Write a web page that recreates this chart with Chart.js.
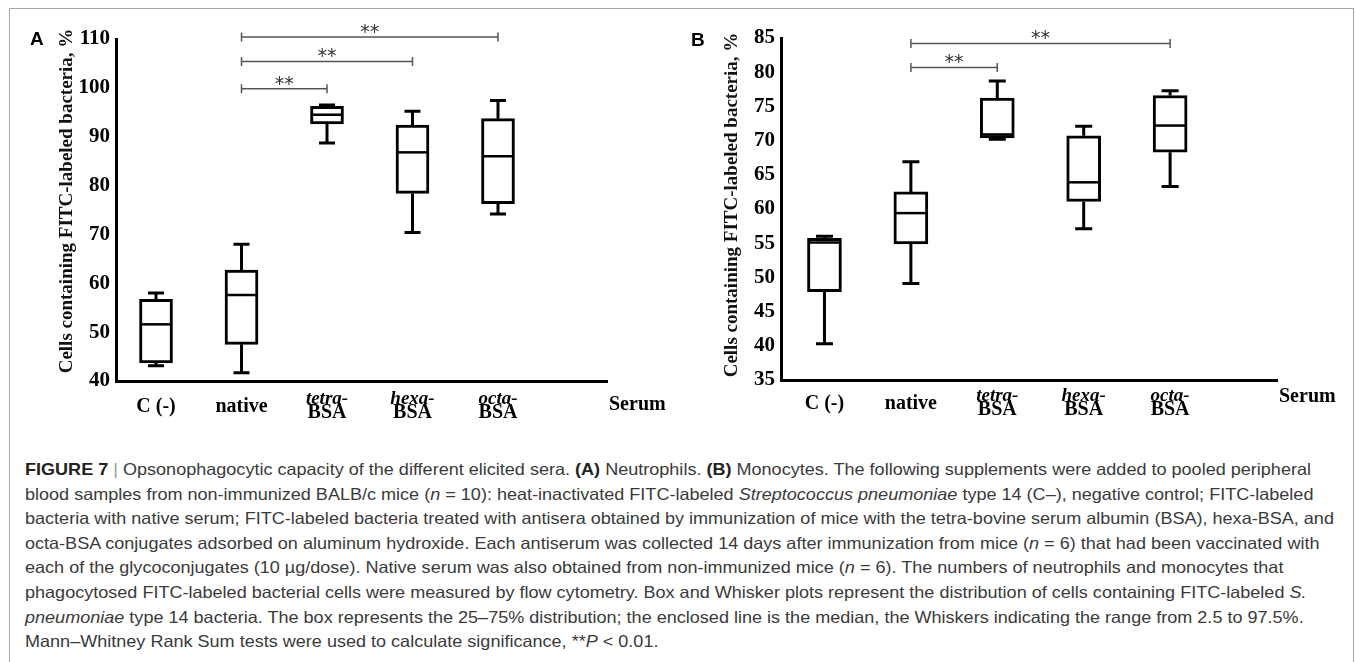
<!DOCTYPE html>
<html>
<head>
<meta charset="utf-8">
<script src="https://cdn.jsdelivr.net/npm/chart.js"></script>
<style>
  body { margin: 0; width: 1355px; height: 662px; overflow: hidden; background: #fff; position: relative; }
  #frame { position: absolute; left: 9px; top: 8px; width: 1343px; height: 720px; border: 1px solid #a8a8a8; }
  canvas { position: absolute; top: 0; }
  #chartA { left: 0; }
  #chartB { left: 680px; }
  .tag { position: absolute; font: bold 19px "Liberation Sans", Arial, sans-serif; line-height: 19px; color: #000; }
  #caption { position: absolute; left: 25px; top: 457px; font: 16.5px "Liberation Sans", Arial, sans-serif;
             line-height: 24.6px; color: #3a3a3a; white-space: nowrap; transform-origin: 0 0; }
  #caption .ln { width: max-content; }
  #caption b { color: #222; }
  #caption .sep { color: #999; }
</style>
</head>
<body>
<div id="frame"></div>
<canvas id="chartA" width="680" height="430"></canvas>
<canvas id="chartB" width="675" height="430"></canvas>
<div class="tag" style="left:30px; top:29px;">A</div>
<div class="tag" style="left:691px; top:30px;">B</div>

<div id="caption">
  <div class="ln"><b>FIGURE 7</b> <span class="sep">|</span> Opsonophagocytic capacity of the different elicited sera. <b>(A)</b> Neutrophils. <b>(B)</b> Monocytes. The following supplements were added to pooled peripheral</div>
  <div class="ln">blood samples from non-immunized BALB/c mice (<i>n</i> = 10): heat-inactivated FITC-labeled <i>Streptococcus pneumoniae</i> type 14 (C–), negative control; FITC-labeled</div>
  <div class="ln">bacteria with native serum; FITC-labeled bacteria treated with antisera obtained by immunization of mice with the tetra-bovine serum albumin (BSA), hexa-BSA, and</div>
  <div class="ln">octa-BSA conjugates adsorbed on aluminum hydroxide. Each antiserum was collected 14 days after immunization from mice (<i>n</i> = 6) that had been vaccinated with</div>
  <div class="ln">each of the glycoconjugates (10 µg/dose). Native serum was also obtained from non-immunized mice (<i>n</i> = 6). The numbers of neutrophils and monocytes that</div>
  <div class="ln">phagocytosed FITC-labeled bacterial cells were measured by flow cytometry. Box and Whisker plots represent the distribution of cells containing FITC-labeled <i>S.</i></div>
  <div class="ln"><i>pneumoniae</i> type 14 bacteria. The box represents the 25–75% distribution; the enclosed line is the median, the Whiskers indicating the range from 2.5 to 97.5%.</div>
  <div class="ln">Mann–Whitney Rank Sum tests were used to calculate significance, **<i>P</i> &lt; 0.01.</div>
</div>

<script>
const categories = ['C (-)', 'native', 'tetra-BSA', 'hexa-BSA', 'octa-BSA'];
const xName = 'Serum';
const yTitle = 'Cells containing FITC-labeled bacteria, %';
const sigText = '**';

// (A) neutrophils
const neuTicks = [40, 50, 60, 70, 80, 90, 100, 110];
const neuLow = [43.1, 41.7, 88.7, 70.4, 74.2];
const neuQ1 = [43.7, 47.5, 92.6, 78.4, 76.3];
const neuMedian = [51.6, 57.6, 94.5, 86.8, 86.0];
const neuQ3 = [56.7, 62.7, 96.2, 92.4, 93.7];
const neuHigh = [58.0, 68.0, 96.5, 95.2, 97.4];
const neuSigPairs = [[2, 3], [2, 4], [2, 5]];
const neuSigLevel = [99.8, 105.4, 110.4];

// (B) monocytes
const monoTicks = [35, 40, 45, 50, 55, 60, 65, 70, 75, 80, 85];
const monoLow = [40.3, 49.1, 70.2, 57.1, 63.3];
const monoQ1 = [47.9, 54.9, 70.4, 61.1, 68.3];
const monoMedian = [55.1, 59.4, 70.9, 63.9, 72.2];
const monoQ3 = [55.7, 62.5, 76.2, 70.7, 76.6];
const monoHigh = [56.0, 66.9, 78.7, 72.1, 77.3];
const monoSigPairs = [[2, 3], [2, 5]];
const monoSigLevel = [80.7, 84.2];

const serif = '"Liberation Serif", "Times New Roman", serif';

function line(ctx, x1, y1, x2, y2) {
  ctx.moveTo(x1, y1);
  ctx.lineTo(x2, y2);
}

// whiskers, medians, brackets and the hand-placed texts
function boxExtras(st, look) {
  return {
    id: 'boxExtras',
    afterDatasetsDraw(chart) {
      const { ctx, scales: { x, y } } = chart;
      ctx.save();
      ctx.strokeStyle = '#000';
      st.median.forEach((m, i) => {
        const cx = x.getPixelForValue(i + 1);
        const hb = look.boxWidth / 2 - 2;
        const hc = look.capWidth / 2;
        const yHi = y.getPixelForValue(st.high[i]);
        const yLo = y.getPixelForValue(st.low[i]);
        ctx.lineWidth = 2.5;
        ctx.beginPath();
        line(ctx, cx - hb, y.getPixelForValue(m), cx + hb, y.getPixelForValue(m));
        ctx.stroke();
        ctx.lineWidth = 3;
        ctx.beginPath();
        line(ctx, cx, y.getPixelForValue(st.q3[i]), cx, yHi);
        line(ctx, cx - hc, yHi, cx + hc, yHi);
        line(ctx, cx, y.getPixelForValue(st.q1[i]), cx, yLo);
        line(ctx, cx - hc, yLo, cx + hc, yLo);
        ctx.stroke();
      });
      ctx.restore();
    },
    afterDraw(chart) {
      const { ctx, chartArea: area, scales: { x, y } } = chart;
      ctx.save();

      // significance brackets
      st.pairs.forEach(([a, b], k) => {
        const x1 = x.getPixelForValue(a);
        const x2 = x.getPixelForValue(b);
        const yy = y.getPixelForValue(st.level[k]);
        ctx.strokeStyle = '#555';
        ctx.lineWidth = 1.5;
        ctx.beginPath();
        line(ctx, x1, yy, x2, yy);
        line(ctx, x1, yy - 4.5, x1, yy + 4.5);
        line(ctx, x2, yy - 4.5, x2, yy + 4.5);
        ctx.stroke();
        ctx.fillStyle = '#333';
        ctx.font = '19px "DejaVu Sans", sans-serif';
        ctx.textAlign = 'center';
        ctx.textBaseline = 'alphabetic';
        ctx.fillText(sigText, (x1 + x2) / 2, yy + 1);
      });

      // category labels
      ctx.fillStyle = '#000';
      ctx.textAlign = 'center';
      ctx.textBaseline = 'middle';
      categories.forEach((c, i) => {
        const cx = x.getPixelForValue(i + 1);
        const cut = c.indexOf('-BSA');
        if (cut > 0) {
          ctx.font = 'italic bold 19px ' + serif;
          ctx.fillText(c.slice(0, cut + 1), cx, area.bottom + look.row1);
          ctx.font = 'bold 20px ' + serif;
          ctx.fillText(c.slice(cut + 1), cx, area.bottom + look.row2);
        } else {
          ctx.font = 'bold 20px ' + serif;
          ctx.fillText(c, cx, area.bottom + look.single);
        }
      });
      ctx.textAlign = 'left';
      ctx.fillText(xName, area.right + 2, area.bottom + look.name);

      // y axis title
      ctx.translate(look.titleX, look.titleY);
      ctx.rotate(-Math.PI / 2);
      ctx.textAlign = 'center';
      ctx.fillStyle = '#111';
      ctx.font = 'bold 19px ' + serif;
      ctx.fillText(yTitle, 0, 0);
      ctx.restore();
    }
  };
}

function boxChart(id, st, look) {
  const ticks = st.ticks;
  return new Chart(document.getElementById(id), {
    type: 'bar',
    data: {
      datasets: [{
        data: categories.map((c, i) => ({ x: i + 1, y: [st.q1[i], st.q3[i]] })),
        backgroundColor: '#fff',
        borderColor: '#000',
        borderWidth: 3,
        borderSkipped: false,
        barThickness: look.boxWidth
      }]
    },
    options: {
      responsive: false,
      animation: false,
      events: [],
      layout: { padding: look.padding },
      plugins: { legend: { display: false }, tooltip: { enabled: false } },
      scales: {
        x: {
          type: 'linear',
          offset: false,
          min: look.xMin,
          max: look.xMax,
          grid: { display: false, drawTicks: false },
          ticks: { display: false },
          border: { display: true, color: '#000', width: 3 },
          afterFit: s => { s.height = 0; }
        },
        y: {
          min: ticks[0],
          max: ticks[ticks.length - 1],
          grid: { display: false, drawTicks: false },
          border: { display: true, color: '#000', width: 3 },
          ticks: {
            stepSize: ticks[1] - ticks[0],
            autoSkip: false,
            padding: 6,
            color: '#000',
            font: { family: serif, size: 21, weight: 'bold' }
          },
          afterFit: s => { s.width = 66; }
        }
      }
    },
    plugins: [boxExtras(st, look)]
  });
}

boxChart('chartA', {
  ticks: neuTicks, low: neuLow, q1: neuQ1, median: neuMedian, q3: neuQ3, high: neuHigh,
  pairs: neuSigPairs, level: neuSigLevel
}, {
  padding: { left: 50, right: 73, top: 39, bottom: 49 },
  xMin: 0.532, xMax: 6.275,
  boxWidth: 33, capWidth: 16,
  single: 26, row1: 18, row2: 32, name: 24,
  titleX: 66.7, titleY: 201
});

boxChart('chartB', {
  ticks: monoTicks, low: monoLow, q1: monoQ1, median: monoMedian, q3: monoQ3, high: monoHigh,
  pairs: monoSigPairs, level: monoSigLevel
}, {
  padding: { left: 35, right: 78, top: 38, bottom: 50 },
  xMin: 0.497, xMax: 6.237,
  boxWidth: 34, capWidth: 17,
  single: 24, row1: 16, row2: 30, name: 17,
  titleX: 51.7, titleY: 205
});

// fit the caption to the width of its first printed line
const cap = document.getElementById('caption');
const firstWidth = cap.querySelector('.ln').getBoundingClientRect().width;
cap.style.transform = 'scaleX(' + (1286 / firstWidth) + ')';
</script>
</body>
</html>
